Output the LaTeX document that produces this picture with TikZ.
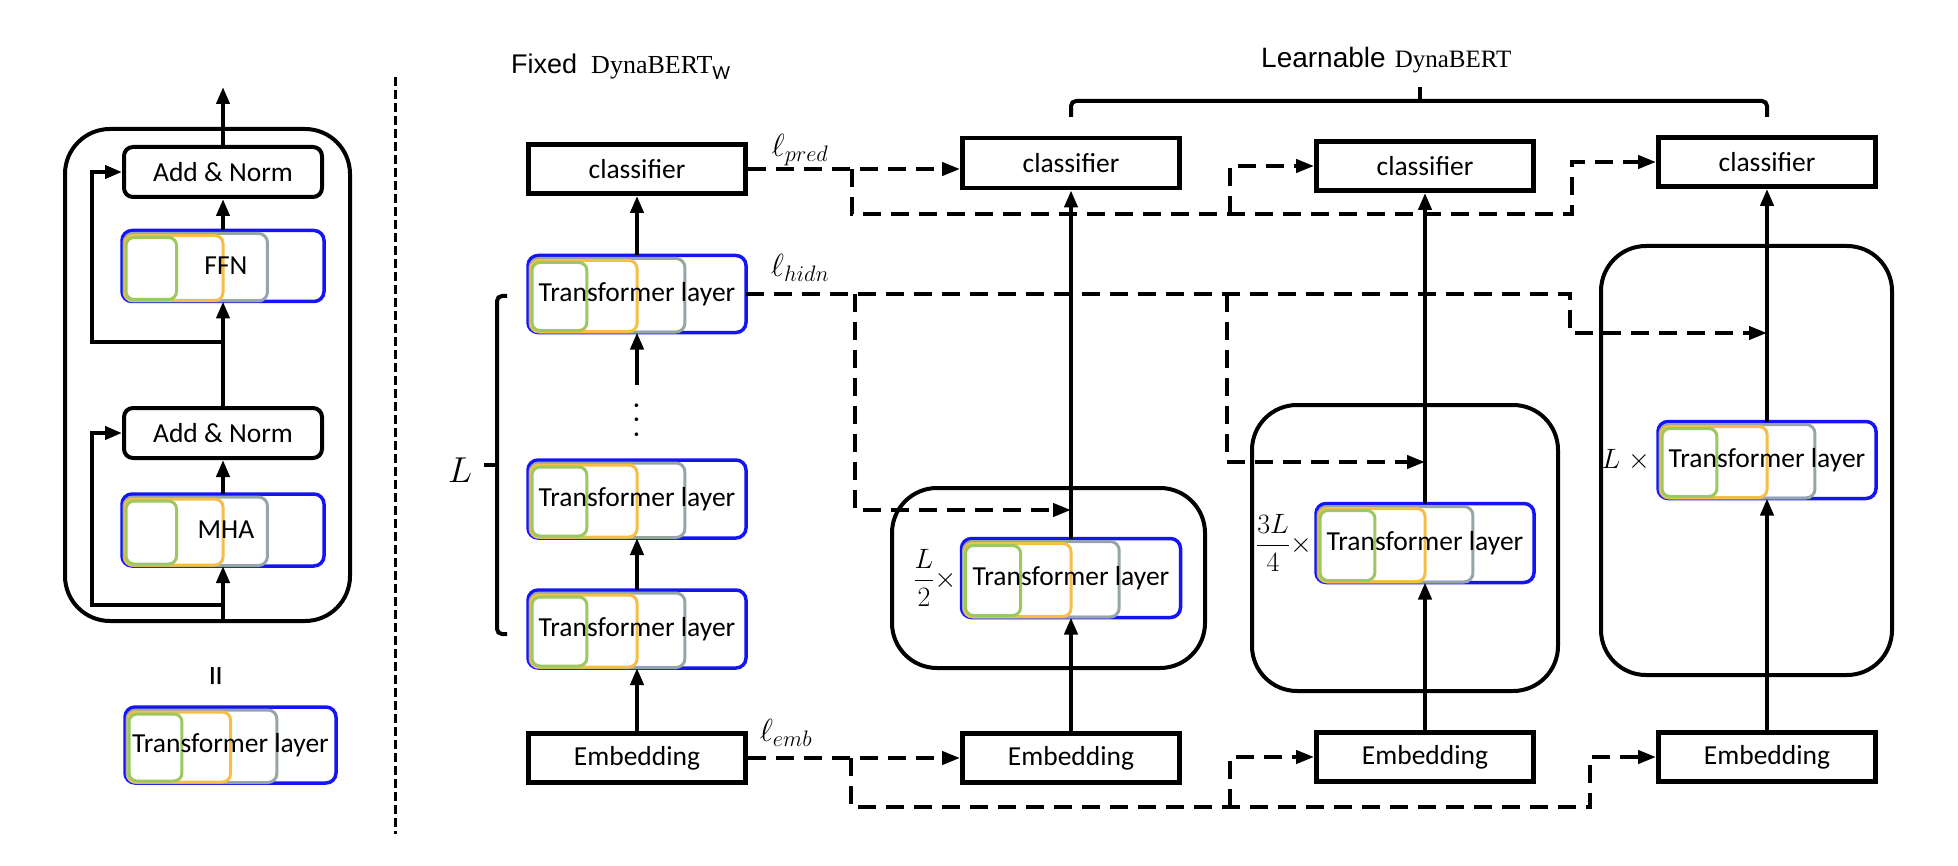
\documentclass[tikz,border=0pt]{standalone}
\usepackage{fix-cm}
\usepackage{amsmath}
\usepackage{fontspec}
\setmainfont{Carlito}
\newfontfamily\arialf{Liberation Sans}
\newfontfamily\serf{Liberation Serif}
\usetikzlibrary{arrows.meta,calc}

\definecolor{tlb}{RGB}{20,20,245}
\definecolor{tlg}{RGB}{155,200,95}
\definecolor{tlo}{RGB}{247,190,70}
\definecolor{tlgr}{RGB}{150,166,168}

\newcommand{\fs}[1]{\fontsize{#1}{#1}\selectfont}

\tikzset{
  txt/.style={font=\fs{27.5}, inner sep=0pt},
  sqbox/.style={draw, line width=4.8pt, fill=white, minimum width=217pt, minimum height=49pt, font=\fs{27.5}, inner sep=0pt},
  anbox/.style={draw, line width=4pt, rounded corners=9pt, fill=white, minimum width=198pt, minimum height=50pt, font=\fs{27.5}, inner sep=0pt},
  bigbox/.style={draw, line width=4pt, rounded corners=45pt, inner sep=0pt},
  tlnode/.style={draw=tlb, line width=3.5pt, rounded corners=10pt, fill=white, outer sep=0pt, inner sep=0pt},
  tlgreen/.style={draw=tlg, line width=3pt, rounded corners=8pt},
  tlorange/.style={draw=tlo, line width=3pt, rounded corners=8pt},
  tlgray/.style={draw=tlgr, line width=3pt, rounded corners=9pt},
  sar/.style={line width=4pt, -{Triangle[length=17pt,width=13pt]}},
  dln/.style={line width=4pt, dash pattern=on 18pt off 10pt},
  dar/.style={dln, -{Triangle[length=18pt,width=13pt]}},
  lossl/.style={font=\fs{32}, inner sep=0pt},
  brc/.style={line width=4pt, rounded corners=5pt},
}

% name, cx, cy, w, h, text
\newcommand{\tlayer}[6]{%
  \node[tlnode, minimum width=#4pt, minimum height=#5pt] (#1) at (#2,#3) {};
  \draw[tlgray] ($(#1.north west)+(2,3)$) rectangle ($(#1.south west)+(0.72*#4,-0.5)$);
  \draw[tlorange] ($(#1.north west)+(3,5)$) rectangle ($(#1.south west)+(0.5*#4,-1)$);
  \draw[tlgreen] ($(#1.north west)+(4,7)$) rectangle ($(#1.south west)+(0.27*#4,-2)$);
  \node[txt] (#1t) at (#1) {#6};
}

\begin{document}
\begin{tikzpicture}[x=1pt,y=-1pt]
\useasboundingbox (0,0) rectangle (1958,866);

% ---------------- left panel ----------------
\node[bigbox, minimum width=285pt, minimum height=492pt] (LP) at (207.5,375) {};
\node[anbox] (AN2) at (223,172) {Add \& Norm};
\tlayer{FFN}{223}{266}{202}{71}{\hspace{6pt}FFN}
\node[anbox] (AN1) at (223,433) {Add \& Norm};
\tlayer{MHA}{223}{530}{202}{72}{\hspace{6pt}MHA}
\coordinate (outtop) at (223,87);
\coordinate (inbot) at (223,621);
\coordinate (res2) at (223,342);
\coordinate (res1) at (223,605);
\draw[sar] (AN2.north) -- (outtop);
\draw[sar] (FFN.north) -- (AN2.south);
\draw[sar] (AN1.north) -- (FFN.south);
\draw[sar] (MHA.north) -- (AN1.south);
\draw[sar] (inbot) -- (MHA.south);
\draw[sar] (res2) -- ++(-131,0) |- (AN2.west);
\draw[sar] (res1) -- ++(-131,0) |- (AN1.west);

\node[rotate=90, font=\fs{42}, inner sep=0pt] (eq) at (220,676) {=};
\tlayer{LEG}{230.5}{745}{211}{76}{Transformer layer}

% separator
\coordinate (s1) at (395,77);
\coordinate (s2) at (395,834);
\draw[line width=3pt, dash pattern=on 9pt off 4pt] (s1) -- (s2);

% ---------------- fixed column ----------------
\node[anchor=base west, inner sep=0pt] (fixedlbl) at (511,74)
  {{\arialf\fs{27}Fixed}\hspace{14pt}{\serf\fs{26}DynaBERT}\raisebox{-6pt}{\fs{20}W}};
\node[sqbox] (FC) at (637,169) {classifier};
\tlayer{FT1}{637}{294}{218}{77}{Transformer layer}
\node[rotate=90, font=\fs{30}, inner sep=0pt] (dots) at (637,420) {.\hspace{7pt}.\hspace{7pt}.};
\tlayer{FT2}{637}{499}{218}{78}{Transformer layer}
\tlayer{FT3}{637}{629}{218}{78}{Transformer layer}
\node[sqbox] (FE) at (637,758) {Embedding};
\coordinate (dtop) at (637,385);
\draw[sar] (FE.north) -- (FT3.south);
\draw[sar] (FT3.north) -- (FT2.south);
\draw[sar] (dtop) -- (FT1.south);
\draw[sar] (FT1.north) -- (FC.south);

% L brace
\draw[brc] (507,296) -- (497,296) -- (497,634) -- (507,634);
\draw[line width=4pt] (497,465) -- (484,465);
\node[font=\fs{36}, inner sep=0pt] (Llbl) at (460,470) {$L$};

% ---------------- learnable columns ----------------
\node[anchor=base west, inner sep=0pt] (learnlbl) at (1261,68)
  {{\arialf\fs{28}Learnable}\hspace{9pt}{\serf\fs{25}DynaBERT}};
\draw[brc] (1071,117) -- (1071,101) -- (1767,101) -- (1767,117);
\draw[line width=4pt] (1420,101) -- (1420,87);

\node[bigbox, minimum width=313pt, minimum height=180pt] (B1) at (1048.5,578) {};
\node[bigbox, minimum width=306pt, minimum height=286pt] (B2) at (1405,548) {};
\node[bigbox, minimum width=291pt, minimum height=429pt] (B3) at (1746.5,460.5) {};

\node[sqbox, minimum height=50pt] (C1) at (1071,163) {classifier};
\node[sqbox] (C2) at (1425,166) {classifier};
\node[sqbox] (C3) at (1767,162) {classifier};

\tlayer{T1}{1071}{578}{219}{79}{Transformer layer}
\tlayer{T2}{1425}{543}{218}{79}{Transformer layer}
\tlayer{T3}{1767}{460}{218}{77}{Transformer layer}

\node[sqbox] (E1) at (1071,758) {Embedding};
\node[sqbox] (E2) at (1425,757) {Embedding};
\node[sqbox] (E3) at (1767,757) {Embedding};

\node[anchor=east, font=\fs{28}, inner sep=0pt] (f1) at ([xshift=-5pt]T1.west) {$\dfrac{L}{2}\times$};
\node[anchor=east, font=\fs{28}, inner sep=0pt] (f2) at ([xshift=-4pt]T2.west) {$\dfrac{3L}{4}\times$};
\node[anchor=east, font=\fs{28}, inner sep=0pt] (f3) at ([xshift=-8pt]T3.west) {$L\mkern5mu\times$};

% solid column arrows
\draw[sar] (E1.north) -- (T1.south);
\draw[sar] (T1.north) -- (C1.south);
\draw[sar] (E2.north) -- (T2.south);
\draw[sar] (T2.north) -- (C2.south);
\draw[sar] (E3.north) -- (T3.south);
\draw[sar] (T3.north) -- (C3.south);

% loss labels
\node[lossl] (lpred) at (800,150) {$\ell_{pred}$};
\node[lossl] (lhidn) at (800,268) {$\ell_{hidn}$};
\node[lossl] (lemb) at (786,733) {$\ell_{emb}$};

% pred dashed
\coordinate (pj1) at (852,169);
\coordinate (pj2) at (1230,214);
\coordinate (pj3) at (1572,214);
\draw[dar] (FC.east) -- (FC.east -| C1.west);
\draw[dar] (pj1) |- (pj3) |- (C3.west);
\draw[dar] (pj2) |- (C2.west);

% hidn dashed
\coordinate (hj1) at (855,294);
\coordinate (hj2) at (1227,294);
\coordinate (hj3) at (1570,294);
\coordinate (h1) at (1071,510);
\coordinate (h2) at (1425,462);
\coordinate (h3) at (1767,333);
\draw[dar] (FT1.east) -- (hj3) |- (h3);
\draw[dar] (hj1) |- (h1);
\draw[dar] (hj2) |- (h2);

% emb dashed
\coordinate (ej1) at (851,758);
\coordinate (ej2) at (1230,807);
\coordinate (ej3) at (1590,807);
\draw[dar] (FE.east) -- (FE.east -| E1.west);
\draw[dar] (ej1) |- (ej3) |- (E3.west);
\draw[dar] (ej2) |- (E2.west);
\end{tikzpicture}
\end{document}
